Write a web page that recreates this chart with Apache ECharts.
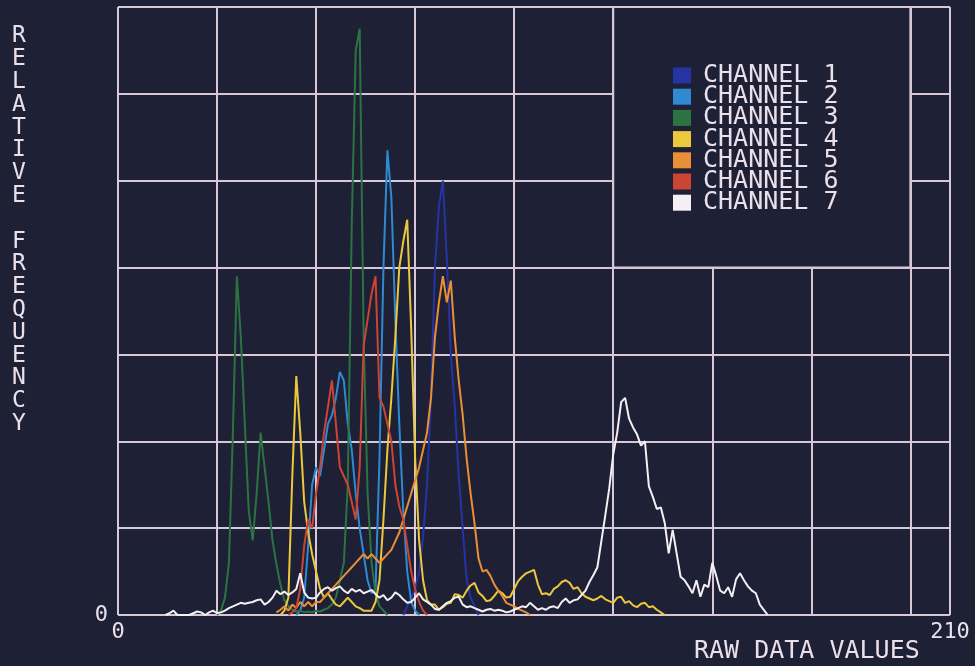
<!DOCTYPE html>
<html>
<head>
<meta charset="utf-8">
<script src="https://cdn.jsdelivr.net/npm/echarts@6/dist/echarts.min.js"></script>
<style>
  html, body { margin: 0; padding: 0; background: #1e2036; }
  #chart { width: 975px; height: 666px; }
</style>
</head>
<body>
<div id="chart"></div>
<script>
// histogram bins per channel: first raw value, then relative frequency per raw value
var names = ['CHANNEL 1', 'CHANNEL 2', 'CHANNEL 3', 'CHANNEL 4', 'CHANNEL 5', 'CHANNEL 6', 'CHANNEL 7'];
var colors = ['#2633a3', '#2f8ad2', '#2b7442', '#ebc83c', '#eb8f36', '#cc4434', '#f4eff4'];

var ch1Start = 72;
var ch1 = [0, 1, 2, 3, 5, 9, 15, 25, 40, 47, 50, 41, 30, 24, 16, 10, 4, 2, 1, 0];

var ch2Start = 45;
var ch2 = [0, 0.5, 2, 8, 15, 17, 16, 19, 22, 23, 25, 28, 27, 22, 19, 14, 10, 7, 4, 2.5,
  3, 18, 40, 53.5, 48, 34, 22, 12, 5, 1.5, 0.5, 0];

var ch3Start = 25;
var ch3 = [0, 0.5, 2, 6, 21, 39, 32, 22, 12, 8.6, 14, 21, 17, 13, 8.6, 5.8, 3.5, 1.7, 1, 0.6,
  0.4, 0.5, 0.3, 0.4, 0.3, 0.5, 0.4, 0.6, 0.8, 1.2, 2, 4, 6, 15, 45, 65, 67.5, 32, 14, 6,
  2.5, 1, 0.5, 0];

var ch4Start = 41;
var ch4 = [0, 0.5, 2, 16, 27.5, 21, 13, 9.5, 7, 5,
  3, 2, 2.5, 1.8, 1.2, 1, 1.5, 2, 1.5, 1,
  0.8, 0.5, 0.5, 0.5, 1.5, 4, 11, 19, 25, 32,
  40, 43, 45.5, 33, 18, 8.6, 4, 1.7, 1.2, 1.2,
  0.6, 0.9, 1.3, 1.4, 2.4, 2.3, 2.0, 2.8, 3.4, 3.7,
  2.6, 2.2, 1.6, 1.7, 2.2, 2.8, 2.5, 2.0, 2.1, 3.0,
  3.9, 4.4, 4.8, 5.0, 5.2, 3.5, 2.4, 2.5, 2.3, 3.0,
  3.3, 3.8, 4.0, 3.7, 3.0, 3.2, 2.5, 2.1, 1.9, 1.7,
  1.9, 2.2, 1.8, 1.6, 1.4, 2.0, 2.1, 1.4, 1.6, 1.1,
  0.9, 1.3, 1.4, 0.9, 1.0, 0.6, 0.3, 0];

var ch5Start = 40;
var ch5 = [0.3, 0.6, 1, 0.5, 1.2, 0.8, 1.5, 1, 1.5, 1,
  1.5, 1.5, 2, 2.5, 3, 3.5, 4, 4.5, 5, 5.5,
  6, 6.5, 7, 6.5, 7, 6.5, 6, 6.5, 7, 7.5,
  8.5, 9.5, 11, 12.5, 14, 15.5, 17, 19, 21, 25,
  32, 36, 39, 36, 38.5, 32, 27, 23, 18, 14,
  10.5, 6.5, 5, 5.2, 4.5, 3.5, 2.8, 2.2, 1.4, 1.2,
  1, 0.7, 0.5, 0.3, 0];

var ch6Start = 43;
var ch6 = [0, 0.3, 0.8, 3, 8, 11, 10, 14, 17, 21,
  24, 27, 22, 17, 16, 15, 13, 11, 17, 31,
  34, 37, 39, 25, 24, 22, 20, 15, 12.5, 11,
  8, 5, 3, 1.5, 0.5, 0];

var ch7Start = 12;
var ch7 = [0, 0.2, 0.5, 0, 0, 0, 0, 0.2, 0.4, 0.3,
  0, 0.3, 0.5, 0.2, 0.3, 0.5, 0.8, 1.0, 1.2, 1.4,
  1.3, 1.4, 1.5, 1.7, 1.8, 1.2, 1.5, 2.0, 2.8, 2.4,
  2.7, 2.3, 2.6, 3.0, 4.8, 2.6, 2.0, 1.9, 2.0, 2.6,
  3.0, 3.2, 2.8, 3.1, 3.3, 2.8, 2.5, 3.0, 2.7, 2.9,
  2.5, 2.7, 2.9, 2.4, 2.0, 2.3, 1.7, 2.0, 2.6, 2.3,
  1.8, 1.4, 1.5, 2.0, 2.5, 1.8, 1.5, 1.2, 0.7, 0.6,
  1.0, 1.4, 1.6, 2.0, 2.1, 1.2, 0.9, 1.0, 0.8, 0.6,
  0.4, 0.6, 0.7, 0.5, 0.6, 0.5, 0.3, 0.4, 0.6, 0.8,
  1.0, 0.9, 1.4, 1.0, 0.6, 0.8, 0.6, 0.9, 1.0, 0.8,
  1.5, 1.9, 1.4, 1.7, 1.8, 2.3, 2.8, 3.8, 4.6, 5.5,
  8.5, 11.5, 14.6, 18.5, 21, 24.5, 25, 22.6, 21.6, 20.8,
  19.5, 20, 14.8, 13.6, 12.2, 12.4, 10.6, 7.1, 9.8, 7.1,
  4.4, 4, 3.3, 2.5, 4, 2.1, 3.5, 3.2, 6, 4.5,
  2.8, 2.5, 3.2, 2.1, 4.1, 4.8, 4, 3.3, 2.8, 2.5,
  1.2, 0.6, 0];

var starts = [ch1Start, ch2Start, ch3Start, ch4Start, ch5Start, ch6Start, ch7Start];
var channels = [ch1, ch2, ch3, ch4, ch5, ch6, ch7];

var xMax = 210, xStep = 25;
var yMax = 70, yStep = 10;
// empty box of the grid that holds the legend (in data units)
var boxX = [125, 200], boxY = [40, 70];

var bg = '#1e2036';
var gridColor = '#d8c8d6';
var textColor = '#ebe0ea';
var mono = 'DejaVu Sans Mono';

function bins(start, vals) {
  return vals.map(function (v, i) { return [start + i, v]; });
}

var series = channels.map(function (vals, k) {
  var s = {
    name: names[k],
    type: 'line',
    data: bins(starts[k], vals),
    showSymbol: false,
    color: colors[k],
    lineStyle: { width: 2, color: colors[k] },
    emphasis: { disabled: true }
  };
  if (k === 0) {
    s.markArea = {
      silent: true,
      label: { show: false },
      itemStyle: { color: bg, borderColor: gridColor, borderWidth: 2 },
      data: [[{ xAxis: boxX[0], yAxis: boxY[0] }, { xAxis: boxX[1], yAxis: boxY[1] }]]
    };
  }
  return s;
});

var chart = echarts.init(document.getElementById('chart'));
chart.setOption({
  backgroundColor: bg,
  animation: false,
  title: [
    {
      text: 'RELATIVE FREQUENCY'.split('').join('\n'),
      left: 12, top: 25, padding: 0,
      textStyle: { color: textColor, fontFamily: mono, fontWeight: 'normal', fontSize: 23, lineHeight: 22.8 }
    },
    {
      text: 'RAW DATA VALUES',
      left: 694, top: 639, padding: 0,
      textStyle: { color: textColor, fontFamily: mono, fontWeight: 'normal', fontSize: 25, lineHeight: 24 }
    }
  ],
  legend: {
    data: names,
    orient: 'vertical',
    left: 673, top: 63,
    padding: 0,
    itemWidth: 18, itemHeight: 16, itemGap: -3.8,
    icon: 'rect',
    selectedMode: false,
    textStyle: { color: textColor, fontFamily: mono, fontSize: 25, padding: [0, 0, 0, 7] }
  },
  grid: { left: 118, right: 25, top: 7, bottom: 51 },
  xAxis: {
    type: 'value', min: 0, max: xMax, interval: xStep,
    axisLine: { show: false },
    axisTick: { show: false },
    splitLine: { show: true, lineStyle: { color: gridColor, width: 2 } },
    axisLabel: {
      color: textColor, fontFamily: mono, fontSize: 22, margin: 6,
      showMaxLabel: true,
      formatter: function (v) { return (v === 0 || v === xMax) ? String(v) : ''; }
    }
  },
  yAxis: {
    type: 'value', min: 0, max: yMax, interval: yStep,
    axisLine: { show: false },
    axisTick: { show: false },
    splitLine: { show: true, lineStyle: { color: gridColor, width: 2 } },
    axisLabel: {
      color: textColor, fontFamily: mono, fontSize: 22, margin: 10,
      padding: [0, 0, 10, 0],
      formatter: function (v) { return v === 0 ? '0' : ''; }
    }
  },
  series: series
});
</script>
</body>
</html>
